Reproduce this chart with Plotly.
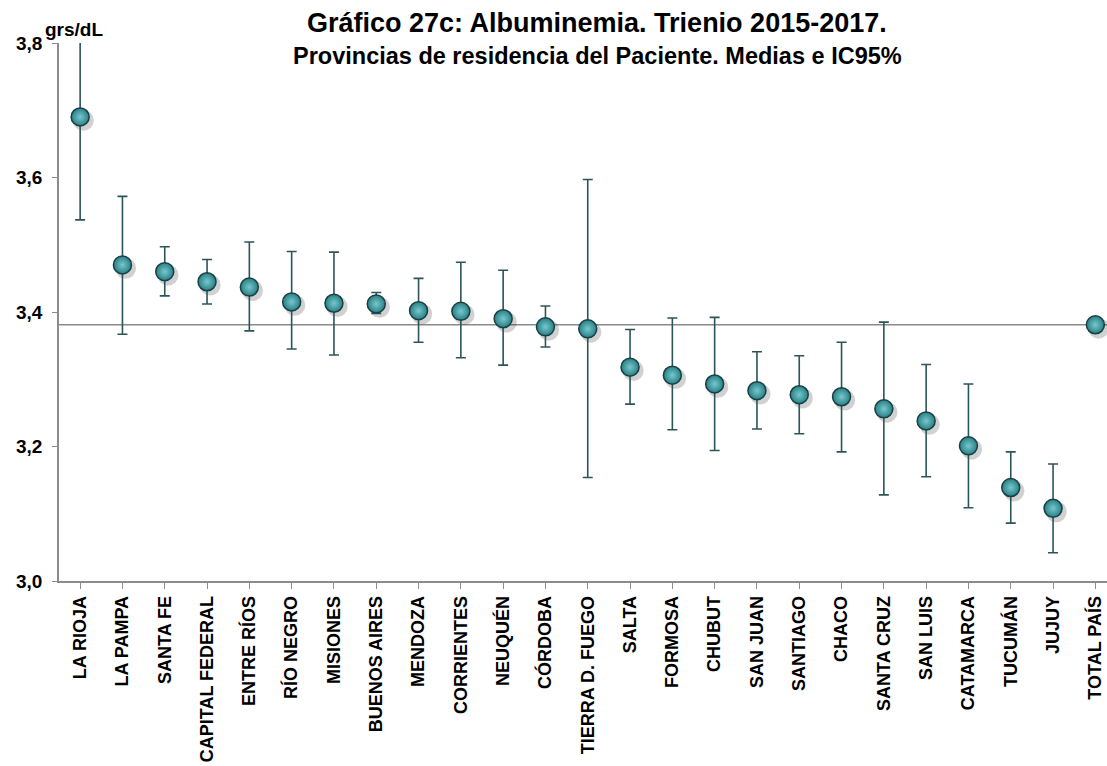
import plotly.graph_objects as go

provincias = ["LA RIOJA", "LA PAMPA", "SANTA FE", "CAPITAL FEDERAL", "ENTRE RÍOS",
              "RÍO NEGRO", "MISIONES", "BUENOS AIRES", "MENDOZA", "CORRIENTES",
              "NEUQUÉN", "CÓRDOBA", "TIERRA D. FUEGO", "SALTA", "FORMOSA", "CHUBUT",
              "SAN JUAN", "SANTIAGO", "CHACO", "SANTA CRUZ", "SAN LUIS", "CATAMARCA",
              "TUCUMÁN", "JUJUY", "TOTAL PAÍS"]
medias = [3.690, 3.470, 3.460, 3.445, 3.437, 3.415, 3.413, 3.412, 3.402, 3.401,
          3.390, 3.378, 3.375, 3.318, 3.306, 3.293, 3.283, 3.277, 3.274, 3.256,
          3.238, 3.201, 3.139, 3.108, 3.381]
ic_sup = [3.843, 3.572, 3.497, 3.478, 3.504, 3.490, 3.489, 3.429, 3.450, 3.474,
          3.462, 3.409, 3.597, 3.374, 3.391, 3.392, 3.341, 3.335, 3.355, 3.385,
          3.322, 3.293, 3.192, 3.174, 3.381]
ic_inf = [3.537, 3.367, 3.424, 3.412, 3.372, 3.345, 3.336, 3.398, 3.355, 3.332,
          3.321, 3.348, 3.154, 3.263, 3.225, 3.194, 3.226, 3.219, 3.192, 3.128,
          3.155, 3.109, 3.086, 3.042, 3.381]
total_pais = 3.381
y_ticks = [3.0, 3.2, 3.4, 3.6, 3.8]

err_plus = [s - m for s, m in zip(ic_sup, medias)]
err_minus = [m - i for m, i in zip(medias, ic_inf)]
idx = list(range(len(provincias)))

FONT = "Liberation Sans, Arial, sans-serif"
W, H = 1107, 766
ML, MR, MT, MB = 59, 0, 43, 185
pw = W - ML - MR
ph = H - MT - MB

def px_x(x):
    return (x - ML) / pw

def px_y(y):
    return (H - MB - y) / ph

fig = go.Figure()

# soft shadow behind each sphere
fig.add_trace(go.Scatter(
    x=[i + 0.075 for i in idx], y=[m - 0.005 for m in medias], mode="markers",
    marker=dict(size=21, color="rgba(0,0,0,0.18)", line=dict(width=0)),
    hoverinfo="skip", showlegend=False, cliponaxis=False,
))

fig.add_trace(go.Scatter(
    x=idx, y=medias, mode="markers",
    error_y=dict(type="data", symmetric=False, array=err_plus, arrayminus=err_minus,
                 color="#2c5557", thickness=1.6, width=5),
    marker=dict(size=18, color="#267f85",
                gradient=dict(type="radial", color="#78c8cd"),
                line=dict(color="#1a3f42", width=1.5)),
    showlegend=False, cliponaxis=False,
))

fig.add_shape(type="line", xref="paper", x0=0, x1=1, yref="y", y0=total_pais, y1=total_pais,
              line=dict(color="#8a8a8a", width=1.5), layer="below")

fig.update_layout(
    width=W, height=H,
    margin=dict(l=ML, r=MR, t=MT, b=MB),
    paper_bgcolor="white", plot_bgcolor="white",
    font=dict(family=FONT, color="black"),
    annotations=[
        dict(text="<b>Gráfico 27c: Albuminemia. Trienio 2015-2017.</b>",
             x=px_x(597), y=px_y(23), xref="paper", yref="paper", showarrow=False,
             xanchor="center", yanchor="middle", font=dict(size=27)),
        dict(text="<b>Provincias de residencia del Paciente. Medias e IC95%</b>",
             x=px_x(597), y=px_y(56), xref="paper", yref="paper", showarrow=False,
             xanchor="center", yanchor="middle", font=dict(size=23.5)),
        dict(text="<b>grs/dL</b>",
             x=px_x(74), y=px_y(30), xref="paper", yref="paper", showarrow=False,
             xanchor="center", yanchor="middle", font=dict(size=19)),
    ],
)

fig.update_xaxes(
    range=[-0.5, -0.5 + pw / 42.3],
    tickmode="array", tickvals=idx, ticktext=[f"<b>{p}</b>" for p in provincias],
    tickangle=-90, tickfont=dict(size=18, family=FONT, color="black"),
    showline=True, linecolor="#8c8c8c", linewidth=1.5,
    ticks="outside", ticklen=6, tickcolor="#8c8c8c", tickwidth=1,
    tickson="boundaries", showgrid=False, zeroline=False,
)
fig.update_yaxes(
    range=[3.0, 3.8], tickmode="array", tickvals=y_ticks,
    ticktext=[f"<b>{v:.1f}</b>".replace(".", ",") for v in y_ticks],
    tickfont=dict(size=19, family=FONT, color="black"),
    showline=True, linecolor="#8c8c8c", linewidth=1.5,
    ticks="outside", ticklen=5, tickcolor="#8c8c8c", tickwidth=1,
    showgrid=False, zeroline=False, ticklabelstandoff=6,
)

fig.write_html("out.html", config={"displayModeBar": False},
               post_script="document.body.style.margin='0';")
